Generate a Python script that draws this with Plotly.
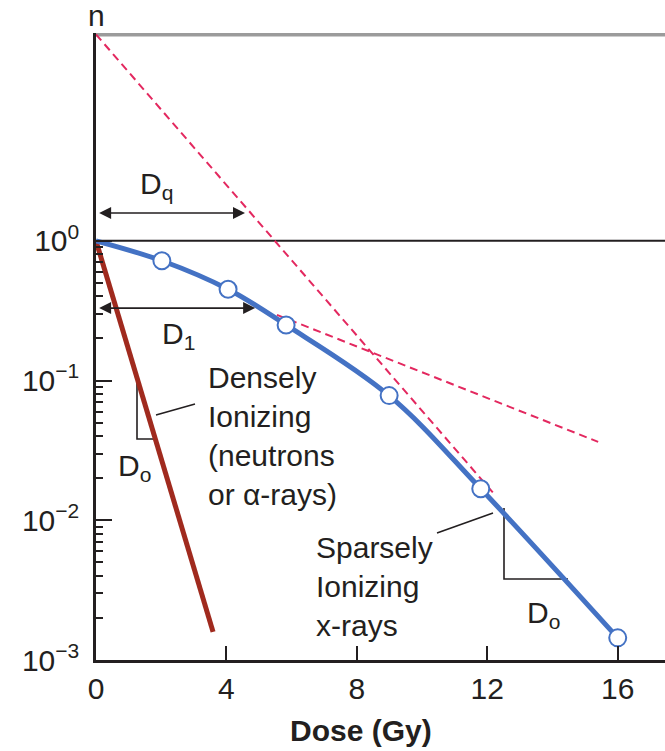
import math
import plotly.graph_objects as go

# ---------------- data ----------------
dose_sparse = [0.0, 2.02, 4.05, 5.83, 8.99, 11.8, 16.0]
surv_sparse = [1.0, 0.72, 0.45, 0.25, 0.078, 0.0168, 0.00144]
dose_dense = [0.0, 3.59]
surv_dense = [1.0, 0.00159]
extrap_n = 30.0
final_tangent_dose = [0.0, 12.18]
final_tangent_surv = [30.0, 0.0157]
initial_tangent_dose = [5.55, 15.4]
initial_tangent_surv = [0.295, 0.0364]
dq_value = 4.57
dq_level = 1.58
d1_value = 4.88
d1_level = 0.33
x_tickvals = [0, 4, 8, 12, 16]
x_ticktext = ["0", "4", "8", "12", "16"]
y_tickvals = [1, 0.1, 0.01, 0.001]
y_ticktext = ["10<sup>0</sup>", "10<sup>−1</sup>", "10<sup>−2</sup>", "10<sup>−3</sup>"]
y_minor = [k * 10.0 ** e for e in (-3, -2, -1) for k in range(2, 10)]

# ---------------- layout geometry helpers ----------------
W, H = 665, 751
ML, MT, MB = 96, 33, 91
X_MAX = 17.45
Y_LOG_MIN, Y_LOG_MAX = -3.0, math.log10(extrap_n) + 0.01
PLOT_W = W - ML
PLOT_H = H - MT - MB
PX_PER_GY = PLOT_W / X_MAX
PX_PER_DEC = PLOT_H / (Y_LOG_MAX - Y_LOG_MIN)


def gx(px):
    return (px - ML) / PX_PER_GY


def gly(py):
    return (H - MB - py) / PX_PER_DEC + Y_LOG_MIN


def gy(py):
    return 10 ** gly(py)


def px_paper(px):
    return (px - ML) / PLOT_W


def py_paper(py):
    return (H - MB - py) / PLOT_H


INK = "#231F20"
FONT = "Liberation Sans, Arial, Helvetica, sans-serif"
FS = 30

fig = go.Figure()

# top (n) grey line
fig.add_trace(go.Scatter(x=[0, X_MAX], y=[extrap_n, extrap_n], mode="lines",
                         line=dict(color="#9B9B9B", width=4), hoverinfo="skip",
                         cliponaxis=False))
# survival = 1 line
fig.add_trace(go.Scatter(x=[0, X_MAX], y=[1, 1], mode="lines",
                         line=dict(color=INK, width=2), hoverinfo="skip"))
# dashed tangents
fig.add_trace(go.Scatter(x=final_tangent_dose, y=final_tangent_surv, mode="lines",
                         line=dict(color="#E3285F", width=2, dash="8px,5px"),
                         hoverinfo="skip", cliponaxis=False))
fig.add_trace(go.Scatter(x=initial_tangent_dose, y=initial_tangent_surv, mode="lines",
                         line=dict(color="#E3285F", width=2, dash="8px,5px"),
                         hoverinfo="skip"))
# D0 triangles and leader lines
deco = [
    ([gx(137), gx(137), gx(154)], [gy(380), gy(439), gy(439)]),
    ([gx(156), gx(195)], [gy(415), gy(404)]),
    ([gx(504), gx(504), gx(568)], [gy(508), gy(579), gy(579)]),
    ([gx(437), gx(493)], [gy(533), gy(513)]),
]
for xs, ys in deco:
    fig.add_trace(go.Scatter(x=xs, y=ys, mode="lines",
                             line=dict(color=INK, width=1.6), hoverinfo="skip"))
# densely ionizing
fig.add_trace(go.Scatter(x=dose_dense, y=surv_dense, mode="lines",
                         line=dict(color="#A02A1E", width=5), hoverinfo="skip"))
# sparsely ionizing
fig.add_trace(go.Scatter(x=dose_sparse, y=surv_sparse, mode="lines",
                         line=dict(color="#4472C4", width=5, shape="spline"),
                         hoverinfo="skip"))
fig.add_trace(go.Scatter(x=dose_sparse[1:], y=surv_sparse[1:], mode="markers",
                         marker=dict(size=17, color="white",
                                     line=dict(color="#4472C4", width=2)),
                         hoverinfo="skip", cliponaxis=False))

ann = []
# double arrows
for val, lvl in ((dq_value, dq_level), (d1_value, d1_level)):
    ann.append(dict(x=val, y=math.log10(lvl), ax=0.05, ay=math.log10(lvl),
                    xref="x", yref="y", axref="x", ayref="y", text="",
                    showarrow=True, arrowhead=2, startarrowhead=2,
                    arrowside="end+start", arrowsize=1.5, startarrowsize=1.5,
                    arrowwidth=1.6, arrowcolor=INK))


def label(text, px, py, xanchor="left", yanchor="middle", size=FS, align="left"):
    ann.append(dict(x=px_paper(px), y=py_paper(py), xref="paper", yref="paper",
                    text=text, showarrow=False, xanchor=xanchor, yanchor=yanchor,
                    align=align, font=dict(family=FONT, size=size, color=INK)))


label("n", 96, 15, xanchor="center")
label("D<sub>q</sub>", 138, 185)
label("D<sub>1</sub>", 160, 335)
label("D<sub>o</sub>", 116, 467)
label("D<sub>o</sub>", 525, 614)
label("Densely<br>Ionizing<br>(neutrons<br>or α-rays)", 206, 436)
label("Sparsely<br>Ionizing<br>x-rays", 314, 586)
label("<b>Dose (Gy)</b>", 361, 730, xanchor="center", size=30)
label("<b>B</b>", 26, 742, yanchor="top", size=30)

fig.update_layout(
    width=W, height=H,
    margin=dict(l=ML, r=0, t=MT, b=MB, pad=0),
    paper_bgcolor="white", plot_bgcolor="white",
    showlegend=False,
    annotations=ann,
    font=dict(family=FONT, size=FS, color=INK),
    xaxis=dict(range=[0, X_MAX], tickvals=x_tickvals, ticktext=x_ticktext,
               ticks="inside", ticklen=14, tickwidth=2, tickcolor=INK,
               showline=True, linecolor=INK, linewidth=2.5, showgrid=False,
               zeroline=False, ticklabelstandoff=0,
               tickfont=dict(family=FONT, size=FS, color=INK)),
    yaxis=dict(type="log", range=[Y_LOG_MIN, Y_LOG_MAX], tickvals=y_tickvals,
               ticktext=y_ticktext, ticks="inside", ticklen=16, tickwidth=2,
               tickcolor=INK, showline=True, linecolor=INK, linewidth=2.5,
               showgrid=False, zeroline=False, ticklabelstandoff=8,
               tickfont=dict(family=FONT, size=FS, color=INK),
               minor=dict(tickmode="array", tickvals=y_minor, ticks="inside",
                          ticklen=7, tickwidth=2, tickcolor=INK, showgrid=False)),
)

fig.write_html("out.html")
